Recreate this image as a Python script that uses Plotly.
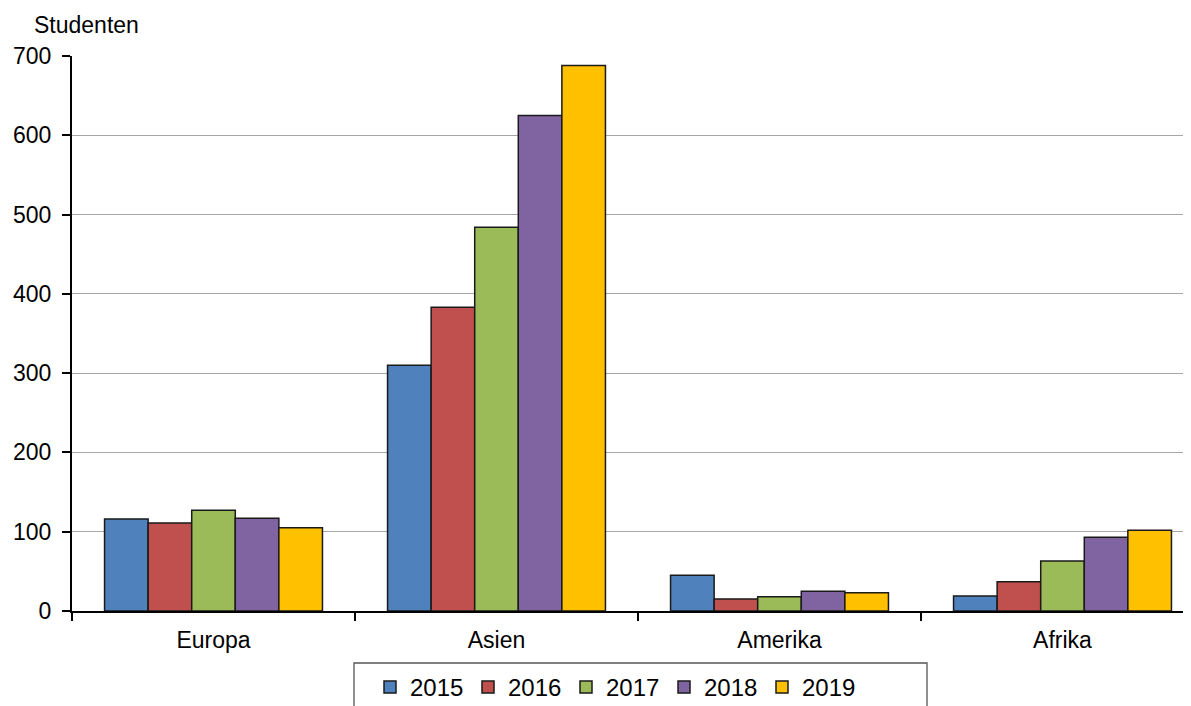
import plotly.graph_objects as go

categories = ["Europa", "Asien", "Amerika", "Afrika"]
years = ["2015", "2016", "2017", "2018", "2019"]
v2015 = [116, 310, 45, 19]
v2016 = [111, 383, 15, 37]
v2017 = [127, 484, 18, 63]
v2018 = [117, 625, 25, 93]
v2019 = [105, 688, 23, 102]
series = [v2015, v2016, v2017, v2018, v2019]
colors = ["#4F81BD", "#C0504D", "#9BBB59", "#8064A2", "#FFC000"]
y_ticks = [0, 100, 200, 300, 400, 500, 600, 700]

FONT = "Liberation Sans, Arial, sans-serif"

fig = go.Figure()
for yr, vals, col in zip(years, series, colors):
    fig.add_trace(go.Bar(
        name=yr, x=categories, y=vals,
        marker=dict(color=col, line=dict(color="#1a1a1a", width=1.5)),
    ))

# page is offset by the 8px default body margin
OFF = 8
W, H = 1191 - OFF, 706 - OFF
ml, mr, mt, mb = 72 - OFF, 0, 56 - OFF, 95
pw = W - ml - mr
ph = H - mt - mb
cat_px = 283.0
xmax = -0.5 + pw / cat_px


def px_x(page_x):
    return (page_x - OFF - ml) / pw


def px_y(page_y):
    return 1 - (page_y - OFF - mt) / ph


fig.update_layout(
    width=W, height=H,
    margin=dict(l=ml, r=mr, t=mt, b=mb, pad=0, autoexpand=False),
    paper_bgcolor="white", plot_bgcolor="white",
    barmode="group", bargap=0.23, bargroupgap=0,
    font=dict(family=FONT, size=23, color="#000000"),
    showlegend=True,
    legend=dict(
        orientation="h", x=px_x(370), xanchor="left",
        y=px_y(665), yanchor="top",
        bgcolor="rgba(0,0,0,0)", borderwidth=0,
        font=dict(family=FONT, size=24),
        entrywidth=53, entrywidthmode="pixels",
        itemclick=False, itemdoubleclick=False,
    ),
    xaxis=dict(
        range=[-0.5, xmax], automargin=False,
        showline=True, linecolor="#000000", linewidth=2,
        ticks="outside", tickson="boundaries", ticklen=8, tickwidth=1.5,
        tickcolor="#000000", showgrid=False,
        tickfont=dict(family=FONT, size=23),
        ticklabelstandoff=7,
        fixedrange=True,
    ),
    yaxis=dict(
        range=[0, 700], tickvals=y_ticks, automargin=False,
        showline=True, linecolor="#000000", linewidth=2,
        ticks="outside", ticklen=8, tickwidth=1.5, tickcolor="#000000",
        showgrid=True, gridcolor="#A6A6A6", gridwidth=1.2,
        zeroline=False,
        tickfont=dict(family=FONT, size=23),
        ticklabelstandoff=6,
        fixedrange=True,
    ),
    shapes=[dict(
        type="rect", xref="paper", yref="paper",
        x0=px_x(354), x1=px_x(927),
        y0=px_y(740), y1=px_y(663),
        line=dict(color="#555555", width=1.3), fillcolor="rgba(0,0,0,0)",
        layer="below",
    )],
    annotations=[dict(
        text="Studenten", xref="paper", yref="paper",
        x=px_x(32), y=px_y(25), xanchor="left", yanchor="middle",
        showarrow=False, font=dict(family=FONT, size=23),
    )],
)

fig.write_html("out.html", config={"displayModeBar": False})
